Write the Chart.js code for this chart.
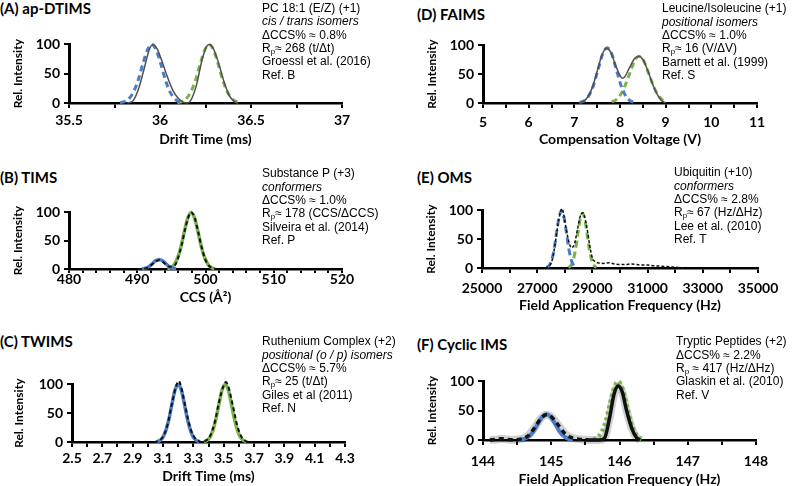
<!DOCTYPE html>
<html>
<head>
<meta charset="utf-8">
<script src="https://cdn.jsdelivr.net/npm/chart.js@4.4.1/dist/chart.umd.min.js"></script>
<style>
  html, body { margin:0; padding:0; background:#fff; }
  body { width:800px; height:486px; position:relative; overflow:hidden; }
  canvas { position:absolute; }
  .ptitle { position:absolute; font-family:Lato, sans-serif; font-weight:bold; font-size:15px; line-height:18px; color:#000; white-space:nowrap; z-index:2; }
  .note { position:absolute; font-family:"Liberation Sans", Arial, sans-serif; font-size:12px; line-height:13.4px; color:#000; white-space:nowrap; z-index:2; }
  .note sub { font-size:8px; vertical-align:-2px; line-height:0; }
</style>
</head>
<body>
<script>
// ---------- DATA ----------
// (A) ap-DTIMS
const A_expX   = [35.82,35.85,35.88,35.91,35.94,35.96,35.985,36.01,36.04,36.07,36.10,36.13,36.15,36.17,36.20,36.23,36.255,36.27,36.29,36.32,36.35,36.38,36.41,36.43];
const A_expY   = [0,3,22,55,90,100,92,72,45,22,8,1,0,5,30,72,96,100,95,70,38,13,2,0];
const A_blueX  = [35.78,35.805,35.83,35.855,35.88,35.905,35.93,35.955,35.98,36.005,36.03,36.055,36.08,36.105,36.13];
const A_blueY  = [0.6,2.4,7.6,19,39,66,90,100,90,66,39,19,7.6,2.4,0.6];
const A_greenX = [36.095,36.12,36.145,36.17,36.195,36.22,36.245,36.27,36.295,36.32,36.345,36.37,36.395,36.42,36.445];
const A_greenY = [0.6,2.4,7.6,19,39,66,90,100,90,66,39,19,7.6,2.4,0.6];
const A_ticks  = [35.5,36,36.5,37];

// (B) TIMS
const B_expX   = [490,491,491.7,492.2,492.7,493.2,493.7,494.2,494.7,495.2,495.6,496.0,496.5,497.0,497.5,497.9,498.4,498.9,499.4,499.9,500.4,500.9,501.5];
const B_expY   = [0,0.5,4,8.5,13.5,15.5,13,8,4,5,8,20,42,70,92,100,91,67,40,19,7,2,0];
const B_blueX  = [490.7,491.2,491.7,492.2,492.7,493.2,493.7,494.2,494.7,495.2,495.7];
const B_blueY  = [0.4,1.4,4.2,9.2,14.6,17,14.6,9.2,4.2,1.4,0.4];
const B_greenX = [494.4,494.9,495.4,495.9,496.4,496.9,497.4,497.9,498.4,498.9,499.4,499.9,500.4,500.9,501.4];
const B_greenY = [0.6,2.4,7.6,19,39,66,90,100,90,66,39,19,7.6,2.4,0.6];
const B_ticks  = [480,490,500,510,520];

// (C) TWIMS
const C_expX   = [3.04,3.07,3.10,3.13,3.16,3.19,3.205,3.22,3.25,3.28,3.31,3.34,3.36,3.38,3.41,3.44,3.47,3.50,3.515,3.53,3.56,3.59,3.62,3.65,3.68];
const C_expY   = [0,2,9,30,68,100,106,95,58,24,7,1,0,2,10,33,70,98,104,97,64,28,8,1,0];
const C_blueX  = [3.06,3.08,3.10,3.12,3.14,3.16,3.18,3.20,3.22,3.24,3.26,3.28,3.30,3.32,3.34];
const C_blueY  = [0.8,2.9,8.5,21,41,67,91,100,91,67,41,21,8.5,2.9,0.8];
const C_greenX = [3.37,3.39,3.41,3.43,3.45,3.47,3.49,3.51,3.53,3.55,3.57,3.59,3.61,3.63,3.65];
const C_greenY = [0.8,2.9,8.5,21,41,67,91,100,91,67,41,21,8.5,2.9,0.8];
const C_ticks  = [2.5,2.7,2.9,3.1,3.3,3.5,3.7,3.9,4.1,4.3];

// (D) FAIMS
const D_expX   = [7.1,7.2,7.3,7.4,7.5,7.6,7.7,7.8,7.9,8.0,8.05,8.1,8.2,8.3,8.4,8.5,8.6,8.7,8.8,8.9,9.0];
const D_expY   = [0,3,11,28,55,82,95,88,66,48,43,45,60,75,81,76,58,36,17,5,0];
const D_blueX  = [7.12,7.22,7.32,7.42,7.52,7.62,7.72,7.82,7.92,8.02,8.12,8.22,8.32];
const D_blueY  = [1,4,13,31,58,85,96,85,58,31,13,4,1];
const D_greenX = [7.82,7.92,8.02,8.12,8.22,8.32,8.42,8.52,8.62,8.72,8.82,8.92,9.02];
const D_greenY = [2,6,15.5,32,53,73,81,73,53,32,15.5,6,2];
const D_ticks  = [5,6,7,8,9,10,11];

// (E) OMS
const E_expX   = [27300,27450,27550,27650,27750,27850,27900,27950,28050,28150,28250,28350,28450,28550,28650,28700,28800,28900,29000,29100,29200,29400,29600,29800,30000,30200,30400,30600,30800,31000,31200,31500,31800,32100,32300];
const E_expY   = [0,4,15,42,75,98,103,95,68,45,35,42,65,88,96,92,70,40,17,11,9,8,9,7,6,6,7,6,5,5,4,3,2,1,0];
const E_blueX  = [27340,27430,27520,27610,27700,27790,27880,27970,28060,28150,28240,28330,28420];
const E_blueY  = [1,4,13,32,61,88,100,88,61,32,13,4,1];
const E_greenX = [28130,28215,28300,28385,28470,28555,28640,28725,28810,28895,28980,29065,29150];
const E_greenY = [1,4,13,31,58,84,95,84,58,31,13,4,1];
const E_ticks  = [25000,27000,29000,31000,33000,35000];

// (F) Cyclic IMS
const F_expX   = [144.1,144.2,144.27,144.35,144.45,144.55,144.65,144.75,144.85,144.93,145.0,145.1,145.2,145.3,145.4,145.5,145.6,145.7,145.78,145.85,145.92,145.98,146.04,146.1,146.18,146.25,146.3];
const F_expY   = [0,1,2,1,0.5,1.5,6,20,37,43,40,26,11,4,1.5,0.5,0,0,3,35,78,92,82,52,20,4,0];
const F_blueX  = [144.54,144.605,144.67,144.735,144.8,144.865,144.93,144.995,145.06,145.125,145.19,145.255,145.32];
const F_blueY  = [0.5,2,6,14,27,39,44,39,27,14,6,2,0.5];
const F_greenX = [145.62,145.68,145.74,145.8,145.86,145.92,145.98,146.04,146.1,146.16,146.22,146.28,146.34];
const F_greenY = [1,4.4,13.5,32,61,88,100,88,61,32,13.5,4.4,1];
const F_ticks  = [144,145,146,147,148];

const Y_ticks = [0,50,100];

// ---------- RENDERING ----------
const BLUE = '#4a7dc9', GREEN = '#79b34a', BLACK = '#111', GRAY = '#505050';
function pts(xs, ys) { return xs.map((x, i) => ({ x: x, y: ys[i] })); }
function near(v, list) { return list.some(t => Math.abs(t - v) < 1e-6); }

function line(xs, ys, color, width, dash, order, extra) {
  return Object.assign({
    data: pts(xs, ys), borderColor: color, borderWidth: width, borderDash: dash || [],
    pointRadius: 0, fill: false, cubicInterpolationMode: 'monotone', clip: false, order: order
  }, extra || {});
}

function addTitle(text, x, yc) {
  const d = document.createElement('div');
  d.className = 'ptitle'; d.textContent = text;
  d.style.left = x + 'px'; d.style.top = (yc - 9) + 'px';
  document.body.appendChild(d);
}
function addNote(lines, x, firstBaseline) {
  const d = document.createElement('div');
  d.className = 'note'; d.innerHTML = lines.join('<br>');
  d.style.left = x + 'px'; d.style.top = (firstBaseline - 10.9) + 'px';
  document.body.appendChild(d);
}

function makePanel(c) {
  const canvasTop = c.T - 12;
  const canvasBottom = Math.round(c.titleCenter + 8.4);
  const h = canvasBottom - canvasTop;
  const cv = document.createElement('canvas');
  cv.width = 400; cv.height = h;
  cv.style.left = c.px + 'px'; cv.style.top = canvasTop + 'px';
  cv.style.width = '400px'; cv.style.height = h + 'px';
  document.body.appendChild(cv);
  const tl = c.tl || 5;
  const xPad = c.labelCenter - c.B - tl - 8.4;
  const tickFont = { family: 'Lato', weight: 'bold', size: 14 };
  new Chart(cv.getContext('2d'), {
    type: 'line',
    data: { datasets: c.datasets },
    options: {
      responsive: false, animation: false, devicePixelRatio: 1,
      layout: { padding: { top: 12, left: 0, right: c.px + 400 - c.R, bottom: 0 } },
      plugins: { legend: { display: false }, tooltip: { enabled: false }, title: { display: false } },
      scales: {
        x: {
          type: 'linear', min: c.xMin, max: c.xMax,
          afterFit: s => { s.height = canvasBottom - c.B; },
          ticks: { stepSize: c.xStep, autoSkip: false, maxRotation: 0, minRotation: 0, padding: xPad, color: '#000', font: tickFont,
                   callback: v => near(v, c.labels) ? c.fmt(v) : '' },
          grid: { drawOnChartArea: false, drawTicks: true, tickLength: tl, color: '#000', lineWidth: 2 },
          border: { display: true, color: '#000', width: 2.5 },
          title: { display: true, text: c.xTitle, color: '#000', font: { family: 'Lato', weight: 'bold', size: 14 }, padding: 0 }
        },
        y: {
          min: 0, max: 100,
          afterFit: s => { s.width = c.L - c.px; },
          ticks: { stepSize: 50, padding: 4, color: '#000', font: tickFont,
                   callback: v => near(v, Y_ticks) ? String(v) : '' },
          grid: { drawOnChartArea: false, drawTicks: true, tickLength: 5, color: '#000', lineWidth: 2 },
          border: { display: true, color: '#000', width: 3 },
          title: { display: true, text: 'Rel. Intensity', color: '#000', font: { family: 'Lato', weight: 'bold', size: 12 },
                   padding: { top: c.yTitleX - c.px - 7.2, bottom: 0 } }
        }
      }
    }
  });
}

// Panel A
makePanel({ px: 0, T: 44, B: 103, L: 69, R: 342, labelCenter: 120, titleCenter: 140, yTitleX: 18,
  xMin: 35.5, xMax: 37, xStep: 0.25, labels: A_ticks, fmt: v => String(v), xTitle: 'Drift Time (ms)',
  datasets: [
    line(A_expX, A_expY, GRAY, 1.5, [], 0),
    line(A_blueX, A_blueY, BLUE, 3, [6, 4], 1),
    line(A_greenX, A_greenY, GREEN, 3, [6, 4], 1)
  ] });

// Panel B
makePanel({ px: 0, T: 212, B: 269, L: 69, R: 342, labelCenter: 279, titleCenter: 298, yTitleX: 18, tl: 4,
  xMin: 480, xMax: 520, xStep: 2, labels: B_ticks, fmt: v => String(v), xTitle: 'CCS (Å²)',
  datasets: [
    line(B_expX, B_expY, BLACK, 2, [4, 3], 0),
    line(B_blueX, B_blueY, BLUE, 3.5, [], 1),
    line(B_greenX, B_greenY, GREEN, 3.5, [], 1)
  ] });

// Panel C
makePanel({ px: 0, T: 384, B: 442, L: 72, R: 345, labelCenter: 458, titleCenter: 477, yTitleX: 19.5,
  xMin: 2.5, xMax: 4.3, xStep: 0.1, labels: C_ticks, fmt: v => v.toFixed(1), xTitle: 'Drift Time (ms)',
  datasets: [
    line(C_expX, C_expY, BLACK, 2, [4, 3], 0),
    line(C_blueX, C_blueY, BLUE, 3.5, [], 1),
    line(C_greenX, C_greenY, GREEN, 3.5, [], 1)
  ] });

// Panel D
makePanel({ px: 400, T: 45, B: 103, L: 483, R: 757, labelCenter: 122, titleCenter: 140, yTitleX: 432,
  xMin: 5, xMax: 11, xStep: 0.5, labels: D_ticks, fmt: v => String(v), xTitle: 'Compensation Voltage (V)',
  datasets: [
    line(D_expX, D_expY, GRAY, 1.5, [], 0),
    line(D_blueX, D_blueY, BLUE, 3, [6, 4], 1),
    line(D_greenX, D_greenY, GREEN, 3, [6, 4], 1)
  ] });

// Panel E
makePanel({ px: 400, T: 210, B: 268, L: 482, R: 758, labelCenter: 288, titleCenter: 306, yTitleX: 431,
  xMin: 25000, xMax: 35000, xStep: 1000, labels: E_ticks, fmt: v => String(v), xTitle: 'Field Application Frequency (Hz)',
  datasets: [
    line(E_expX, E_expY, BLACK, 1.5, [3, 2], 0),
    line(E_blueX, E_blueY, BLUE, 3, [7, 4], 1),
    line(E_greenX, E_greenY, GREEN, 3, [7, 4], 1)
  ] });

// Panel F
makePanel({ px: 400, T: 381, B: 440, L: 483, R: 756, labelCenter: 461, titleCenter: 480, yTitleX: 432,
  xMin: 144, xMax: 148, xStep: 0.5, labels: F_ticks, fmt: v => String(v), xTitle: 'Field Application Frequency (Hz)',
  datasets: [
    line(F_expX, F_expY, BLACK, 3.5, [], 0, { segment: { borderDash: ctx => ctx.p0.parsed.x < 145.5 ? [5, 4] : [] } }),
    line(F_blueX, F_blueY, BLUE, 4, [], 1),
    line(F_greenX, F_greenY, GREEN, 4.5, [3, 3], 1),
    line(F_expX, F_expY, 'rgba(0,0,0,0.18)', 8, [], 3)
  ] });

// Panel titles
addTitle('(A) ap-DTIMS', 0, 7.5);
addTitle('(B) TIMS', 0, 177);
addTitle('(C) TWIMS', 0, 341);
addTitle('(D) FAIMS', 417, 14);
addTitle('(E) OMS', 417, 177);
addTitle('(F) Cyclic IMS', 417, 344);

// Annotations
addNote(['PC 18:1 (E/Z) (+1)', '<i>cis / trans isomers</i>', 'ΔCCS% ≈ 0.8%', 'R<sub>p</sub>≈ 268 (t/Δt)', 'Groessl et al. (2016)', 'Ref. B'], 262, 12.7);
addNote(['Leucine/Isoleucine (+1)', '<i>positional isomers</i>', 'ΔCCS% ≈ 1.0%', 'R<sub>p</sub>≈ 16 (V/ΔV)', 'Barnett et al. (1999)', 'Ref. S'], 662, 13);
addNote(['Substance P (+3)', '<i>conformers</i>', 'ΔCCS% ≈ 1.0%', 'R<sub>p</sub>≈ 178 (CCS/ΔCCS)', 'Silveira et al. (2014)', 'Ref. P'], 262, 178);
addNote(['Ubiquitin (+10)', '<i>conformers</i>', 'ΔCCS% ≈ 2.8%', 'R<sub>p</sub>≈ 67 (Hz/ΔHz)', 'Lee et al. (2010)', 'Ref. T'], 674, 177);
addNote(['Ruthenium Complex (+2)', '<i>positional (o / p) isomers</i>', 'ΔCCS% ≈ 5.7%', 'R<sub>p</sub>≈ 25 (t/Δt)', 'Giles et al (2011)', 'Ref. N'], 262, 346);
addNote(['Tryptic Peptides (+2)', 'ΔCCS% ≈ 2.2%', 'R<sub>p</sub> ≈ 417 (Hz/ΔHz)', 'Glaskin et al. (2010)', 'Ref. V'], 676, 346);
</script>
</body>
</html>
